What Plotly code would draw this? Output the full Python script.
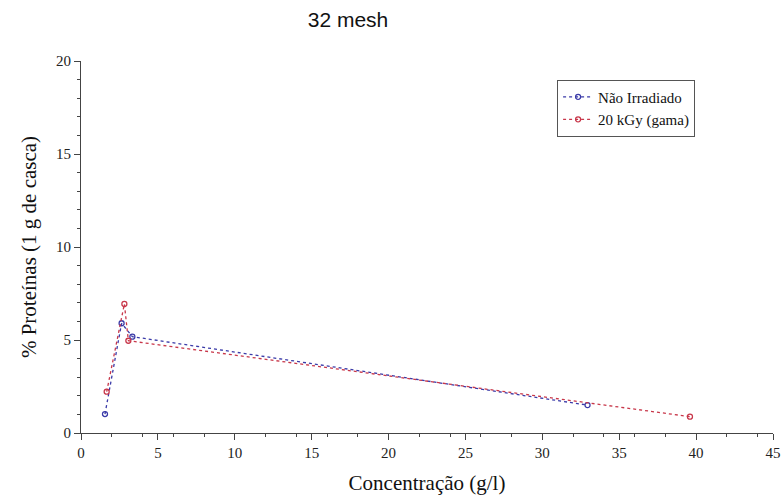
import plotly.graph_objects as go

x_nao = [1.56, 2.64, 3.34, 32.94]
y_nao = [1.02, 5.90, 5.18, 1.50]
x_20k = [1.67, 2.82, 3.08, 39.6]
y_20k = [2.22, 6.94, 4.96, 0.88]
names = ["Não Irradiado", "20 kGy (gama)"]
colors = ["#3a3aa8", "#c8374a"]

fig = go.Figure()
for xs, ys, n, c in [(x_nao, y_nao, names[0], colors[0]), (x_20k, y_20k, names[1], colors[1])]:
    fig.add_trace(go.Scatter(x=xs, y=ys, name=n, mode="lines+markers",
                             line=dict(color=c, dash="dot", width=1.3),
                             marker=dict(symbol="circle-open", size=5, color=c, line=dict(width=1.3))))

serif = "Liberation Serif, DejaVu Serif, serif"
axis_common = dict(showline=True, linecolor="#444", linewidth=1.2, ticks="outside", ticklen=6,
                   tickcolor="#444", showgrid=False, zeroline=False, automargin=False,
                   tickfont=dict(family=serif, size=15, color="#222"),
                   minor=dict(ticks="outside", ticklen=3, tickcolor="#444", nticks=5))
fig.update_layout(
    width=784, height=501, paper_bgcolor="white", plot_bgcolor="white",
    margin=dict(l=81, r=11, t=61, b=68),
    title=dict(text="32 mesh", x=348/784, xanchor="center", xref="container", y=0.96, yanchor="middle",
               font=dict(family="Liberation Sans, Arial, sans-serif", size=21, color="#111")),
    xaxis=dict(range=[0, 45], tickvals=list(range(0, 46, 5)),
               title=dict(text="Concentração (g/l)", font=dict(family=serif, size=21, color="#111"), standoff=15),
               **axis_common),
    yaxis=dict(range=[0, 20], tickvals=[0, 5, 10, 15, 20],
               title=dict(text="% Proteínas (1 g de casca)", font=dict(family=serif, size=21, color="#111"), standoff=13),
               **axis_common),
    legend=dict(x=0.688, y=0.95, xanchor="left", yanchor="top", bordercolor="#555", borderwidth=1,
                bgcolor="white", font=dict(family=serif, size=15, color="#111"),
                itemwidth=30, tracegroupgap=0),
    showlegend=True,
)
fig.write_html("out.html")
